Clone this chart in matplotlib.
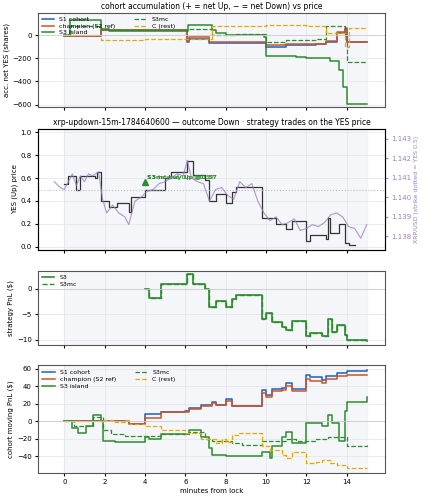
import matplotlib
matplotlib.use("Agg")
import matplotlib.pyplot as plt
import numpy as np

# ---- data (step breakpoints: time in minutes, value) ----
acc_s1_t = [0, 1.8, 6.1, 6.2, 7.2, 8.0, 9.9, 10.0, 11.0, 12.5, 13.0, 13.5, 13.9, 14.0, 15]
acc_s1_v = [-10, 40, -60, -30, -70, -70, -70, -100, -90, -80, -60, 20, 50, -60, -60]
acc_ch_t = [0, 1.8, 6.1, 6.2, 7.2, 8.0, 9.9, 10.0, 11.0, 12.5, 13.0, 13.5, 13.9, 14.0, 15]
acc_ch_v = [-5, 45, -50, -20, -60, -60, -60, -85, -80, -75, -55, 25, 60, -60, -60]
acc_s3_t = [0, 0.3, 1.8, 2.2, 6.15, 7.3, 7.5, 8.0, 9.9, 10.0, 11.5, 12.0, 13.2, 13.6, 13.8, 14.0, 15]
acc_s3_v = [0, 130, 50, 35, 90, 40, 20, 0, -20, -180, -190, -200, -220, -300, -450, -590, -590]
acc_mc_t = [0, 0.3, 1.8, 2.2, 6.2, 7.3, 8.5, 10.0, 11.0, 12.5, 13.0, 13.9, 14.0, 15]
acc_mc_v = [0, 80, 50, 40, 50, 0, 10, -60, -40, -30, 80, 0, -230, -230]
acc_c_t = [0, 1.8, 4.0, 6.0, 7.3, 10.0, 12.0, 13.0, 13.9, 14.1, 15]
acc_c_v = [0, -40, -35, -30, 80, 90, 80, 20, -100, 60, 60]

yes_t = [0, 0.2, 0.6, 0.8, 1.5, 1.6, 1.8, 2.2, 2.6, 3.2, 3.3, 4.0, 5.0, 5.3, 6.1, 6.4, 7.0, 7.2,
         7.5, 8.0, 8.3, 8.5, 9.8, 10.5, 11.0, 11.3, 12.0, 12.2, 13.0, 13.1, 13.2, 13.6, 13.9, 14.1, 14.4]
yes_v = [0.55, 0.62, 0.5, 0.62, 0.6, 0.65, 0.4, 0.35, 0.38, 0.3, 0.43, 0.5, 0.6, 0.65, 0.75, 0.63,
         0.58, 0.4, 0.46, 0.38, 0.48, 0.52, 0.25, 0.2, 0.15, 0.22, 0.05, 0.1, 0.07, 0.25, 0.12, 0.2,
         0.03, 0.01, 0.01]
xrp_t = [-0.5, -0.2, 0.0, 0.2, 0.4, 0.6, 0.8, 1.0, 1.2, 1.4, 1.7, 1.9, 2.1, 2.4, 2.7, 3.0, 3.2,
         3.5, 3.8, 4.1, 4.4, 4.7, 5.0, 5.3, 5.6, 5.9, 6.1, 6.3, 6.6, 6.9, 7.2, 7.5, 7.8, 8.1, 8.4,
         8.7, 9.0, 9.3, 9.6, 9.9, 10.2, 10.5, 10.8, 11.1, 11.4, 11.7, 12.0, 12.3, 12.6, 12.9,
         13.2, 13.5, 13.8, 14.1, 14.4, 14.7, 15.0]
xrp_v = [1.1408, 1.1405, 1.1404, 1.1408, 1.1412, 1.1406, 1.1411, 1.1408, 1.1412, 1.1411,
         1.1413, 1.1399, 1.1392, 1.1396, 1.1392, 1.1390, 1.1386, 1.1398, 1.1400, 1.1403,
         1.1404, 1.1407, 1.1408, 1.1410, 1.1412, 1.1411, 1.1419, 1.1410, 1.1408, 1.1407,
         1.1398, 1.1404, 1.1405, 1.1401, 1.1399, 1.1408, 1.1405, 1.1407, 1.1398, 1.1392,
         1.1388, 1.1390, 1.1386, 1.1387, 1.1389, 1.1383, 1.1384, 1.1386, 1.1385, 1.1387,
         1.1391, 1.1392, 1.1390, 1.1385, 1.1384, 1.1379, 1.1386]

pnl_t = [4.0, 4.2, 4.8, 6.1, 6.4, 7.0, 7.2, 7.5, 8.0, 8.3, 8.5, 9.8, 10.0, 10.3, 10.8, 11.0, 11.3,
         12.0, 12.2, 12.8, 13.1, 13.3, 13.5, 13.9, 14.0, 15.0]
pnl_v = [0, -1.8, 1, 3, 1, 0, -3.5, -2.3, -3.5, -2, -1.2, -6, -4.7, -6.5, -7.5, -8, -6.3,
         -9.3, -8.6, -9.3, -6, -8.5, -7, -9, -10, -10.2]

mv_s1_t = [0, 3.2, 4.0, 4.8, 6.0, 6.2, 6.8, 7.3, 7.5, 8.0, 8.3, 9.8, 10.0, 10.3, 10.8, 11.0, 11.3,
           12.0, 12.2, 12.8, 13.0, 13.5, 14.0, 15.0]
mv_s1_v = [0, -3, 8, 11, 12, 15, 18, 22, 19, 25, 17, 35, 30, 37, 38, 44, 37, 53, 50, 47, 52, 55, 57, 58]
mv_ch_v = [0, -3, 4, 10, 11, 14, 17, 21, 18, 23, 17, 32, 28, 34, 35, 40, 34, 48, 46, 44, 48, 51, 53, 53]
mv_s3_t = [0, 0.4, 0.7, 1.1, 1.4, 1.8, 1.9, 2.5, 4.0, 4.2, 4.8, 6.2, 6.8, 7.2, 7.3, 8.0, 9.8,
           10.2, 10.3, 10.8, 11.0, 11.3, 12.0, 12.8, 13.1, 13.3, 13.6, 13.9, 14.0, 15.0]
mv_s3_v = [0, -8, -14, -6, 7, 0, -22, -24, -18, -20, -15, -10, -18, -30, -38, -40, -35,
           -42, -28, -18, -12, -25, -2, -5, 7, -2, -22, 12, 22, 27]
mv_mc_t = [0, 0.5, 1.4, 1.9, 2.3, 3.0, 4.8, 6.2, 7.0, 7.3, 8.3, 8.8, 9.8, 11.0, 11.5, 12.5, 13.1, 14.0, 15.0]
mv_mc_v = [0, -6, 5, -10, -15, -17, -15, -12, -20, -22, -25, -27, -22, -20, -22, -20, -18, -28, -27]
mv_c_t = [0, 1.8, 2.5, 3.0, 3.2, 4.0, 4.5, 4.8, 6.0, 6.8, 7.5, 7.8, 8.0, 8.3, 8.6, 9.8, 10.2,
          10.8, 11.0, 11.3, 12.0, 12.5, 12.8, 13.2, 13.5, 14.0, 15.0]
mv_c_v = [0, 1, -1, 1, -3, -6, -5, -10, -13, -20, -25, -20, -24, -16, -14, -28, -33, -38,
          -42, -35, -48, -46, -44, -48, -50, -53, -53]

C_S1 = "#1f5fbf"
C_CH = "#c8552d"
C_S3 = "#2e8b2e"
C_C = "#e6a800"
C_XRP = "#9b7fc0"

FS = 5


def style(ax):
    ax.axvspan(0, 15, color="#eef0f8", alpha=0.6, zorder=0)
    ax.grid(True, color="#e4e4e4", lw=0.5)
    ax.set_xlim(-1.3, 15.9)
    for s in ax.spines.values():
        s.set_color("#555555")
    ax.tick_params(labelsize=FS, length=2.5, pad=2)


fig = plt.figure(figsize=(4.23, 5.0), dpi=100)
ax1 = fig.add_axes([0.09, 0.786, 0.82, 0.188])
ax2 = fig.add_axes([0.09, 0.50, 0.82, 0.242], sharex=ax1)
ax3 = fig.add_axes([0.09, 0.31, 0.82, 0.148], sharex=ax1)
ax4 = fig.add_axes([0.09, 0.054, 0.82, 0.216], sharex=ax1)

# panel 1
style(ax1)
ax1.step(acc_s1_t, acc_s1_v, where="post", color=C_S1, lw=1.1, label="S1 cohort")
ax1.step(acc_ch_t, acc_ch_v, where="post", color=C_CH, lw=1.1, label="champion (S2 ref)")
ax1.step(acc_s3_t, acc_s3_v, where="post", color=C_S3, lw=1.1, label="S3 island")
ax1.step(acc_mc_t, acc_mc_v, where="post", color=C_S3, lw=0.9, ls="--", label="S3mc")
ax1.step(acc_c_t, acc_c_v, where="post", color=C_C, lw=0.9, ls="--", label="C (rest)")
ax1.axhline(0, color="#cccccc", lw=0.6)
ax1.set_ylim(-620, 190)
ax1.set_yticks([-600, -400, -200, 0])
ax1.set_ylabel("acc. net YES (shares)", fontsize=FS, labelpad=2)
ax1.set_title("cohort accumulation (+ = net Up, \u2212 = net Down) vs price", fontsize=5.5, pad=3)
ax1.legend(loc="upper left", ncol=2, fontsize=4.5, frameon=False, borderaxespad=0.2,
           handlelength=2, labelspacing=0.2, columnspacing=3)
plt.setp(ax1.get_xticklabels(), visible=False)

# panel 2
style(ax2)
ax2.step(yes_t, yes_v, where="post", color="#333333", lw=0.9)
ax2.axhline(0.5, color="#bbbbbb", lw=0.8, ls=":")
ax2.plot([4.0], [0.57], marker="^", color=C_S3, ms=5)
ax2.text(4.1, 0.59, "S3mc buy Up @0.57", color=C_S3, fontsize=4.5, fontweight="bold")
ax2.text(4.1, 0.59, "S3 island Up @0.57", color=C_S3, fontsize=4.5, fontweight="bold", alpha=0.8)
ax2.set_ylim(-0.03, 1.03)
ax2.set_ylabel("YES (Up) price", fontsize=FS, labelpad=2)
ax2.set_title("xrp-updown-15m-1784640600 \u2014 outcome Down \u00b7 strategy trades on the YES price",
              fontsize=5.5, pad=3)
plt.setp(ax2.get_xticklabels(), visible=False)
ax2b = ax2.twinx()
ax2b.plot(xrp_t, xrp_v, color=C_XRP, lw=0.8, alpha=0.8)
ax2b.set_ylim(1.1373, 1.1435)
ax2b.set_yticks([1.138, 1.139, 1.140, 1.141, 1.142, 1.143])
ax2b.tick_params(labelsize=FS, colors=C_XRP, length=2.5, pad=2)
ax2b.set_ylabel("XRP/USD (strike dotted = YES 0.5)", fontsize=4.5, color=C_XRP, labelpad=2)

# panel 3
style(ax3)
ax3.step(pnl_t, pnl_v, where="post", color=C_S3, lw=1.2, label="S3")
ax3.step(pnl_t, pnl_v, where="post", color=C_S3, lw=1.0, ls="--", label="S3mc")
ax3.axhline(0, color="#cccccc", lw=0.6)
ax3.set_ylim(-11, 3.5)
ax3.set_yticks([-10, -5, 0])
ax3.set_ylabel("strategy PnL ($)", fontsize=FS, labelpad=2)
ax3.legend(loc="upper left", fontsize=4.5, frameon=False, borderaxespad=0.2, labelspacing=0.2)
plt.setp(ax3.get_xticklabels(), visible=False)

# panel 4
style(ax4)
ax4.step(mv_s1_t, mv_s1_v, where="post", color=C_S1, lw=1.1, label="S1 cohort")
ax4.step(mv_s1_t, mv_ch_v, where="post", color=C_CH, lw=1.1, label="champion (S2 ref)")
ax4.step(mv_s3_t, mv_s3_v, where="post", color=C_S3, lw=1.1, label="S3 island")
ax4.step(mv_mc_t, mv_mc_v, where="post", color=C_S3, lw=0.9, ls="--", label="S3mc")
ax4.step(mv_c_t, mv_c_v, where="post", color=C_C, lw=0.9, ls="--", label="C (rest)")
ax4.axhline(0, color="#cccccc", lw=0.6)
ax4.set_ylim(-59, 64)
ax4.set_yticks([-40, -20, 0, 20, 40, 60])
ax4.set_xticks([0, 2, 4, 6, 8, 10, 12, 14])
ax4.set_ylabel("cohort moving PnL ($)", fontsize=FS, labelpad=2)
ax4.set_xlabel("minutes from lock", fontsize=FS, labelpad=2)
ax4.legend(loc="upper left", ncol=2, fontsize=4.5, frameon=False, borderaxespad=0.3,
           handlelength=2, labelspacing=0.3, columnspacing=3)

fig.savefig("out.png", dpi=100)
